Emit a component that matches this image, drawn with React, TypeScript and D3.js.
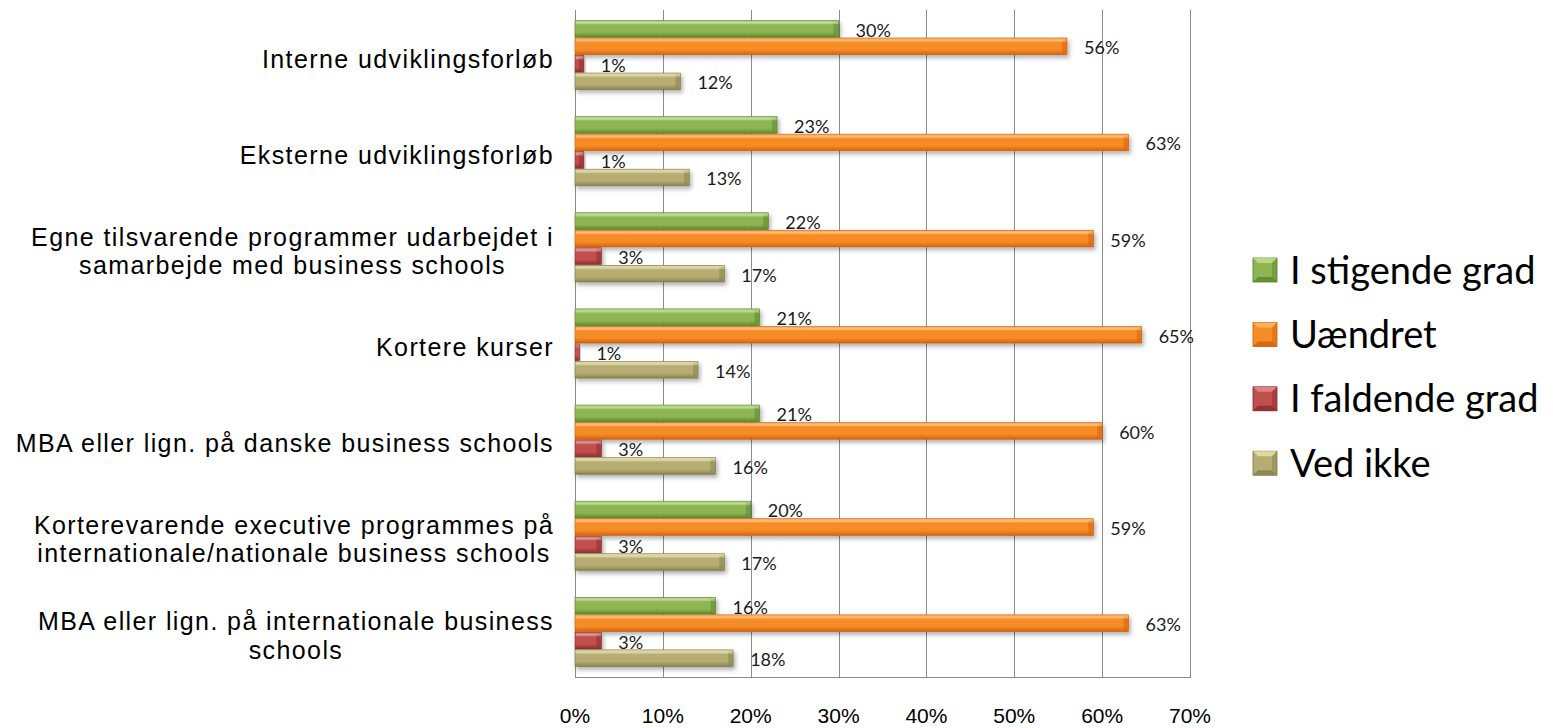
import React, { useEffect, useRef } from "react";
import * as d3 from "d3";

const categories = [
  "Interne udviklingsforløb",
  "Eksterne udviklingsforløb",
  "Egne tilsvarende programmer udarbejdet i\nsamarbejde med business schools",
  "Kortere kurser",
  "MBA eller lign. på danske business schools",
  "Korterevarende executive programmes på\ninternationale/nationale business schools",
  "MBA eller lign. på internationale business\nschools",
];
const seriesNames = ["I stigende grad", "Uændret", "I faldende grad", "Ved ikke"];
const stigende = [30, 23, 22, 21, 21, 20, 16];
const uaendret = [56, 63, 59, 64.5, 60, 59, 63];
const faldende = [1, 1, 3, 0.5, 3, 3, 3];
const vedIkke = [12, 13, 17, 14, 16, 17, 18];
const xTicks = [0, 10, 20, 30, 40, 50, 60, 70];

const seriesValues = [stigende, uaendret, faldende, vedIkke];
const palettes = [
  { top: "#bcdc8a", mid: "#8db552", bot: "#5f8a2c", edge: "#55792a" },
  { top: "#fcb766", mid: "#f68c27", bot: "#d7640c", edge: "#c55a0a" },
  { top: "#e08a88", mid: "#c0504d", bot: "#8e2f2c", edge: "#7f2a28" },
  { top: "#e4dea4", mid: "#b5ad72", bot: "#8a834f", edge: "#7a7447" },
];

export default function App() {
  const ref = useRef<SVGSVGElement>(null);

  useEffect(() => {
    const svg = d3.select(ref.current);
    svg.selectAll("*").remove();

    const x = d3.scaleLinear().domain([0, 70]).range([575, 1190]);
    const y0 = d3.scaleBand<string>().domain(categories).range([7, 680]).padding(0);
    const bw0 = y0.bandwidth();
    const y1 = d3
      .scaleBand<string>()
      .domain(seriesNames)
      .range([bw0 / 2 - 34.6, bw0 / 2 + 34.6])
      .paddingInner(0.05);

    const plotTop = 10;
    const plotBottom = 677;

    const defs = svg.append("defs");
    palettes.forEach((p, i) => {
      const g = defs
        .append("linearGradient")
        .attr("id", `grad${i}`)
        .attr("x1", 0).attr("y1", 0).attr("x2", 0).attr("y2", 1);
      g.append("stop").attr("offset", "0%").attr("stop-color", p.top);
      g.append("stop").attr("offset", "30%").attr("stop-color", p.mid);
      g.append("stop").attr("offset", "70%").attr("stop-color", p.mid);
      g.append("stop").attr("offset", "100%").attr("stop-color", p.bot);
    });
    const f = defs.append("filter").attr("id", "shadow").attr("x", "-10%").attr("y", "-30%").attr("width", "130%").attr("height", "180%");
    f.append("feDropShadow")
      .attr("dx", 2).attr("dy", 3).attr("stdDeviation", 2)
      .attr("flood-color", "#000").attr("flood-opacity", 0.3);

    // gridlines
    const grid = svg.append("g");
    grid
      .selectAll("line")
      .data(xTicks)
      .join("line")
      .attr("x1", (d) => Math.round(x(d)) + 0.5)
      .attr("x2", (d) => Math.round(x(d)) + 0.5)
      .attr("y1", plotTop)
      .attr("y2", plotBottom)
      .attr("stroke", "#8c8c8c")
      .attr("stroke-width", 1);
    grid
      .append("line")
      .attr("x1", x(0))
      .attr("x2", x(70) + 1)
      .attr("y1", plotBottom + 0.5)
      .attr("y2", plotBottom + 0.5)
      .attr("stroke", "#8c8c8c");

    // tick labels
    svg
      .append("g")
      .selectAll("text")
      .data(xTicks)
      .join("text")
      .attr("x", (d) => x(d))
      .attr("y", 723)
      .attr("text-anchor", "middle")
      .attr("font-family", "'Liberation Sans', Arial, sans-serif")
      .attr("font-size", 21)
      .attr("fill", "#000")
      .text((d) => `${d}%`);

    // bars
    const barsG = svg.append("g");
    categories.forEach((cat, ci) => {
      const cg = barsG.append("g").attr("transform", `translate(0,${y0(cat)})`);
      seriesNames.forEach((s, si) => {
        const v = seriesValues[si][ci];
        const p = palettes[si];
        const yy = y1(s)!;
        const h = y1.bandwidth();
        const x0 = x(0);
        const x1 = x(v);
        const w = Math.max(x1 - x0, 0.5);
        const bar = cg.append("g");
        bar
          .append("rect")
          .attr("x", x0)
          .attr("y", yy)
          .attr("width", w)
          .attr("height", h)
          .attr("fill", `url(#grad${si})`)
          .attr("stroke", p.edge)
          .attr("stroke-width", 0.6)
          .attr("filter", "url(#shadow)");
        bar
          .append("rect")
          .attr("x", x0 + 1)
          .attr("y", yy + 1.5)
          .attr("width", Math.max(w - 5, 0))
          .attr("height", 2)
          .attr("fill", "#fff")
          .attr("opacity", 0.25);
        if (w > 6) {
          bar
            .append("polygon")
            .attr(
              "points",
              `${x1 - 5},${yy + 1} ${x1},${yy + 3.5} ${x1},${yy + h - 3.5} ${x1 - 5},${yy + h - 1}`
            )
            .attr("fill", p.bot)
            .attr("opacity", 0.55);
          bar
            .append("polygon")
            .attr("points", `${x1 - 5},${yy + 1} ${x1},${yy + 3.5} ${x1 - 5},${yy + 3.5}`)
            .attr("fill", "#fff")
            .attr("opacity", 0.35);
        }
        cg.append("text")
          .attr("x", x1 + 17)
          .attr("y", yy + h / 2 + 1)
          .attr("dominant-baseline", "central")
          .attr("font-family", "Lato, 'Open Sans', sans-serif")
          .attr("font-size", 18)
          .attr("fill", "#1a1a1a")
          .text(`${Math.round(v)}%`);
      });
    });

    // category labels
    const labG = svg.append("g");
    const rightEdge = 554;
    const lineGap = 28.4;
    categories.forEach((cat) => {
      const lines = cat.split("\n");
      const c = y0(cat)! + bw0 / 2;
      const texts = lines.map((ln, k) =>
        labG
          .append("text")
          .attr("y", c + 12.5 + (k - (lines.length - 1) / 2) * lineGap)
          .attr("font-family", "'Liberation Sans', Arial, sans-serif")
          .attr("font-size", 25)
          .attr("letter-spacing", 1.4)
          .attr("fill", "#000")
          .text(ln)
      );
      const widths = texts.map((t) => (t.node() as SVGTextElement).getComputedTextLength());
      const maxW = Math.max(...widths);
      const cx = rightEdge - maxW / 2;
      texts.forEach((t, k) => t.attr("x", cx - widths[k] / 2));
    });

    // legend
    const leg = svg.append("g");
    seriesNames.forEach((s, i) => {
      const cy = 270 + i * 64.4;
      const p = palettes[i];
      const g = leg.append("g");
      const sx = 1253, sz = 24, sy = cy - 12;
      g.append("rect")
        .attr("x", sx).attr("y", sy).attr("width", sz).attr("height", sz)
        .attr("fill", p.mid).attr("stroke", p.edge).attr("stroke-width", 0.8);
      g.append("polygon")
        .attr("points", `${sx},${sy} ${sx + sz},${sy} ${sx + sz - 5},${sy + 5} ${sx + 5},${sy + 5}`)
        .attr("fill", p.top).attr("opacity", 0.9);
      g.append("polygon")
        .attr("points", `${sx},${sy + sz} ${sx + sz},${sy + sz} ${sx + sz - 5},${sy + sz - 5} ${sx + 5},${sy + sz - 5}`)
        .attr("fill", p.bot).attr("opacity", 0.9);
      g.append("polygon")
        .attr("points", `${sx + sz},${sy} ${sx + sz},${sy + sz} ${sx + sz - 5},${sy + sz - 5} ${sx + sz - 5},${sy + 5}`)
        .attr("fill", p.bot).attr("opacity", 0.5);
      g.append("text")
        .attr("x", 1290)
        .attr("y", cy + 13.5)
        .attr("font-family", "Lato, 'Open Sans', sans-serif")
        .attr("font-size", 38)
        .attr("fill", "#000")
        .text(s);
    });
  }, []);

  return (
    <svg
      ref={ref}
      width={1553}
      height={728}
      style={{ position: "absolute", left: 0, top: 0, background: "#fff" }}
    />
  );
}
